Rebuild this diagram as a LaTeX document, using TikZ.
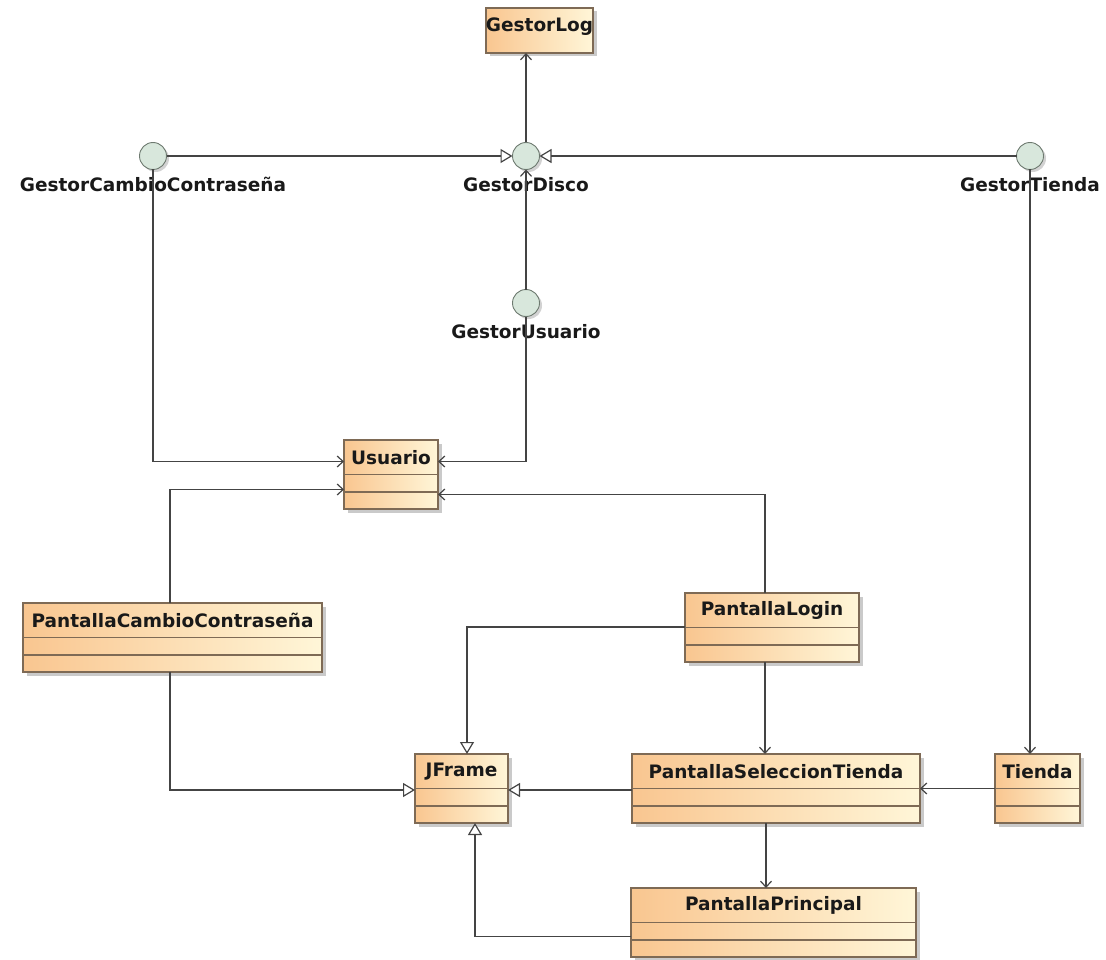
\documentclass[tikz,border=0pt]{standalone}
\usepackage{fontspec}
\setmainfont{DejaVu Sans}
\usepackage{tikz}
\usetikzlibrary{
    arrows.meta,
    positioning,
    calc,
    shadows
}
\definecolor{umlOrange}{HTML}{F9C690}
\definecolor{umlCream}{HTML}{FFF6D8}
\definecolor{umlBorder}{HTML}{7E6A55}
\definecolor{umlBall}{HTML}{D8E7DC}
\definecolor{umlBallDraw}{HTML}{6E7A70}
\definecolor{umlLine}{HTML}{444444}

\begin{document}
\begin{tikzpicture}[x=1pt,y=1pt,
        font=\fontsize{18.5}{21}\selectfont\bfseries,
        klass/.style={draw=umlBorder,line width=1.1pt,left color=umlOrange,right color=umlCream,
            minimum height=69pt,inner sep=0pt,outer sep=0pt,
            drop shadow={shadow xshift=3.5pt,shadow yshift=-3.5pt,fill=black!35,opacity=0.6}},
        klass title/.style={inner sep=0pt,text=black!90},
        iface/.style={circle,draw=umlBallDraw,line width=0.9pt,fill=umlBall,minimum size=27pt,
            inner sep=0pt,outer sep=0pt,
            drop shadow={shadow xshift=2.5pt,shadow yshift=-2.5pt,fill=black!35,opacity=0.5}},
        iface label/.style={inner sep=0pt,text=black!90},
        depend/.style={draw=umlLine,line width=1.2pt,-{Straight Barb[length=6pt,width=11pt]}},
        realize/.style={draw=umlLine,line width=1.2pt,-{Triangle[open,length=12pt,width=14pt,fill=white]}}]
        \useasboundingbox (0,0) rectangle (1106,-960);

        % Interfaces
        \node[iface] (gCambio) at (153,-156) {};
        \node[iface] (gDisco) at (526,-156) {};
        \node[iface] (gTienda) at (1030,-156) {};
        \node[iface] (gUsuario) at (526,-303) {};
        \node[iface label,below=21pt of gCambio.center] (gCambioTxt) {GestorCambioContraseña};
        \node[iface label,below=21pt of gDisco.center] (gDiscoTxt) {GestorDisco};
        \node[iface label,below=21pt of gTienda.center] (gTiendaTxt) {GestorTienda};
        \node[iface label,below=21pt of gUsuario.center] (gUsuarioTxt) {GestorUsuario};

        % GestorLog
        \node[klass,minimum width=107pt,minimum height=45pt,anchor=north] (gLog) at (539.5,-8) {};
        \node[klass title] (gLogTxt) at ([yshift=-19pt]gLog.north) {GestorLog};

        % Classes with two empty compartments
        \foreach \n/\xa/\xb/\yt/\t in {
            usuario/344/438/440/Usuario,
            pCambio/23/322/603/PantallaCambioContraseña,
            pLogin/685/859/593/PantallaLogin,
            jframe/415/508/754/JFrame,
            pSeleccion/632/920/754/PantallaSeleccionTienda,
            tienda/995/1080/754/Tienda,
            pPrincipal/631/916/888/PantallaPrincipal
        }{
            \node[klass,minimum width={(\xb-\xa)*1pt},anchor=north] (\n) at ({(\xa+\xb)/2},-\yt) {};
            \node[klass title] (\n Txt) at ([yshift=-17.5pt]\n.north) {\t};
            \draw[umlBorder,line width=1.1pt] ([yshift=-34.5pt]\n.north west) -- ([yshift=-34.5pt]\n.north east);
            \draw[umlBorder,line width=1.1pt] ([yshift=-52pt]\n.north west) -- ([yshift=-52pt]\n.north east);
        }

        % Realizations of GestorDisco
        \draw[realize] (gCambio) -- (gDisco);
        \draw[realize] (gTienda) -- (gDisco);

        % Dependencies
        \draw[depend] (gDisco) -- (gDisco |- gLog.south);
        \draw[depend] (gUsuario) -- (gDisco);
        \draw[depend] (gCambio) |- ([yshift=13pt]usuario.west);
        \draw[depend] (gUsuario) |- ([yshift=13pt]usuario.east);
        \draw[depend] ([xshift=-2.5pt]pCambio.north) |- ([yshift=-15pt]usuario.west);
        \draw[depend] ([xshift=-7pt]pLogin.north) |- ([yshift=-20pt]usuario.east);
        \draw[depend] ([xshift=-7pt]pLogin.south) -- ([xshift=-7pt]pLogin.south |- pSeleccion.north);
        \draw[depend] (tienda) -- (pSeleccion);
        \draw[depend] (gTienda) -- (gTienda |- tienda.north);
        \draw[depend] ([xshift=-10pt]pSeleccion.south) -- ([xshift=-10pt]pSeleccion.south |- pPrincipal.north);

        % Generalizations to JFrame
        \draw[realize] ([yshift=0.5pt]pLogin.west) -| ([xshift=5.5pt]jframe.north);
        \draw[realize] ([xshift=-2.5pt]pCambio.south) |- ([yshift=-1.5pt]jframe.west);
        \draw[realize] ([yshift=-1.5pt]pSeleccion.west) -- ([yshift=-1.5pt]jframe.east);
        \draw[realize] ([yshift=-14pt]pPrincipal.west) -| ([xshift=13.5pt]jframe.south);
    \end{tikzpicture}
\end{document}
